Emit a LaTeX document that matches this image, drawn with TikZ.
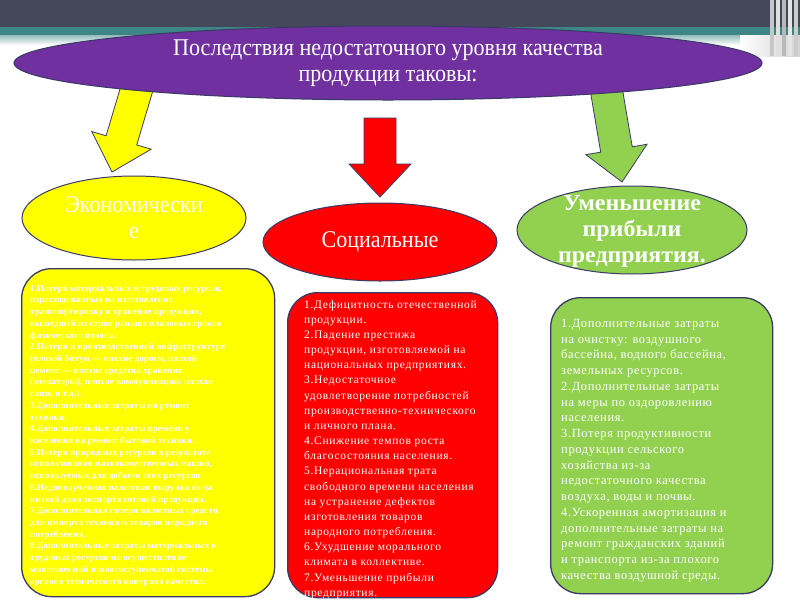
\documentclass[tikz,border=0pt]{standalone}
\usepackage{fontspec}
\setmainfont{Liberation Serif}
\newfontfamily\headfont[FakeStretch=0.92]{Liberation Serif}
\newfontfamily\boldhead[FakeStretch=1.04]{Liberation Serif Bold}
\newfontfamily\bodyfont[LetterSpace=6]{Liberation Serif}
\newfontfamily\greenfont[LetterSpace=5]{Liberation Serif}
\newfontfamily\smallfont[LetterSpace=1.5]{Liberation Serif}
\usetikzlibrary{calc,shapes.geometric}
\definecolor{hdrdark}{HTML}{45475A}
\definecolor{hdrteal}{HTML}{3E8585}
\definecolor{purp}{HTML}{7030A0}
\definecolor{yel}{HTML}{FFFF00}
\definecolor{redc}{HTML}{FF0000}
\definecolor{grn}{HTML}{92D050}
\definecolor{edgec}{HTML}{3A3A66}
\newcommand\blockarrow[3]{%
  \path let \p1=(#2), \p2=(#3), \n1={atan2(\y2-\y1,\x2-\x1)}, \n2={veclen(\x2-\x1,\y2-\y1)} in
    \pgfextra{\xdef\baang{\n1}\xdef\balen{\n2}\xdef\bax{\x1}\xdef\bay{\y1}};
  \draw[barrow,#1,shift={(\bax,\bay)},rotate=\baang]
    (0,-16) -- ({\balen-33},-16) -- ({\balen-33},-31) -- (\balen,0)
    -- ({\balen-33},31) -- ({\balen-33},16) -- (0,16) -- cycle;}
\begin{document}
\begin{tikzpicture}[x=1pt,y=-1pt,
  oval/.style={ellipse, draw=edgec, line width=1pt, inner sep=0pt},
  ovaltext/.style={text=white, align=center, inner sep=0pt, font=\headfont\fontsize{24}{26}\selectfont},
  panel/.style={draw=edgec, line width=1.3pt, rounded corners=30pt, anchor=north west, inner sep=0pt},
  paneltext/.style={text=white, align=left, anchor=north west, inner sep=0pt},
  barrow/.style={draw=edgec, line width=0.8pt}]
\useasboundingbox (0,0) rectangle (800,600);
\fill[white] (0,0) rectangle (800,600);
% header band
\fill[hdrdark] (0,0) rectangle (800,27);
\fill[hdrteal] (0,27) rectangle (800,35);
\shade[top color=hdrteal!55, bottom color=white] (0,35) rectangle (800,45);
\shade[left color=white, right color=gray!35] (740,35) rectangle (800,56);
\foreach \xx/\cc in {770/gray!45,776/gray!25,782/gray!55,788/gray!20,794/gray!40}
  \fill[\cc] (\xx,0) rectangle ++(4,56);
% arrows
\coordinate (ya) at (140,78);  \coordinate (yb) at (112,172);
\coordinate (ra) at (380,118); \coordinate (rb) at (380,197);
\coordinate (ga) at (606,88);  \coordinate (gb) at (622,182);
\blockarrow{fill=yel}{ya}{yb}
\blockarrow{fill=redc}{ra}{rb}
\blockarrow{fill=grn}{ga}{gb}
% title
\node[oval, fill=purp, minimum width=748pt, minimum height=74pt] (title) at (388,63) {};
\node[ovaltext] at (title) {Последствия недостаточного уровня качества\\продукции таковы:};
% category ellipses
\node[oval, fill=yel, minimum width=224pt, minimum height=84pt] (econ) at (134,218) {};
\node[ovaltext] at (econ) {Экономически\\е};
\node[oval, fill=redc, minimum width=234pt, minimum height=78pt] (soc) at (380,242) {};
\node[ovaltext] at (soc) {Социальные};
\node[oval, fill=grn, minimum width=230pt, minimum height=88pt] (prof) at (632,230) {};
\node[ovaltext, font=\boldhead\fontsize{23}{26}\selectfont] at ([yshift=-1.5pt]prof.center) {Уменьшение\\прибыли\\предприятия.};
% panels
\node[panel, fill=yel, minimum width=253pt, minimum height=328pt] (ybox) at (21,268) {};
\node[panel, fill=redc, minimum width=210pt, minimum height=305pt] (rbox) at (287,292) {};
\node[panel, fill=grn, minimum width=222pt, minimum height=296pt] (gbox) at (550,297) {};
\node[paneltext, font=\smallfont\fontsize{9}{11.72}\selectfont\bfseries] at (30,285) {%
1.Потеря материальных и трудовых ресурсов,\\
израсходованных на изготовление,\\
транспортировку и хранение продукции,\\
вышедшей из строя раньше плановых сроков\\
физического износа.\\
2.Потери в производственной инфраструктуре\\
(плохой битум — плохие дороги, плохой\\
цемент — плохие средства хранения\\
(элеваторы), плохие коммуникации, плохая\\
связь и т.д.).\\
3.Дополнительные затраты на ремонт\\
техники.\\
4.Дополнительные затраты времени у\\
населения на ремонт бытовой техники.\\
5.Потери природных ресурсов в результате\\
использования низкокачественных машин,\\
используемых для добычи этих ресурсов.\\
6.Недополученная валютная выручка из-за\\
низкой доли экспорта готовой продукции.\\
7.Дополнительная потеря валютных средств\\
для импорта техники и товаров народного\\
потребления.\\
8.Дополнительные затраты материальных и\\
трудовых ресурсов на осуществление\\
многозвенной и многоступенчатой системы\\
органов технического контроля качества.};
\node[paneltext, font=\bodyfont\fontsize{11.5}{15.16}\selectfont] at (304,300) {%
1.Дефицитность отечественной\\
продукции.\\
2.Падение престижа\\
продукции, изготовляемой на\\
национальных предприятиях.\\
3.Недостаточное\\
удовлетворение потребностей\\
производственно-технического\\
и личного плана.\\
4.Снижение темпов роста\\
благосостояния населения.\\
5.Нерациональная трата\\
свободного времени населения\\
на устранение дефектов\\
изготовления товаров\\
народного потребления.\\
6.Ухудшение морального\\
климата в коллективе.\\
7.Уменьшение прибыли\\
предприятия.};
\node[paneltext, font=\greenfont\fontsize{12.5}{15.75}\selectfont] at (561,319) {%
1.Дополнительные затраты\\
на очистку: воздушного\\
бассейна, водного бассейна,\\
земельных ресурсов.\\
2.Дополнительные затраты\\
на меры по оздоровлению\\
населения.\\
3.Потеря продуктивности\\
продукции сельского\\
хозяйства из-за\\
недостаточного качества\\
воздуха, воды и почвы.\\
4.Ускоренная амортизация и\\
дополнительные затраты на\\
ремонт гражданских зданий\\
и транспорта из-за плохого\\
качества воздушной среды.};
\end{tikzpicture}
\end{document}
